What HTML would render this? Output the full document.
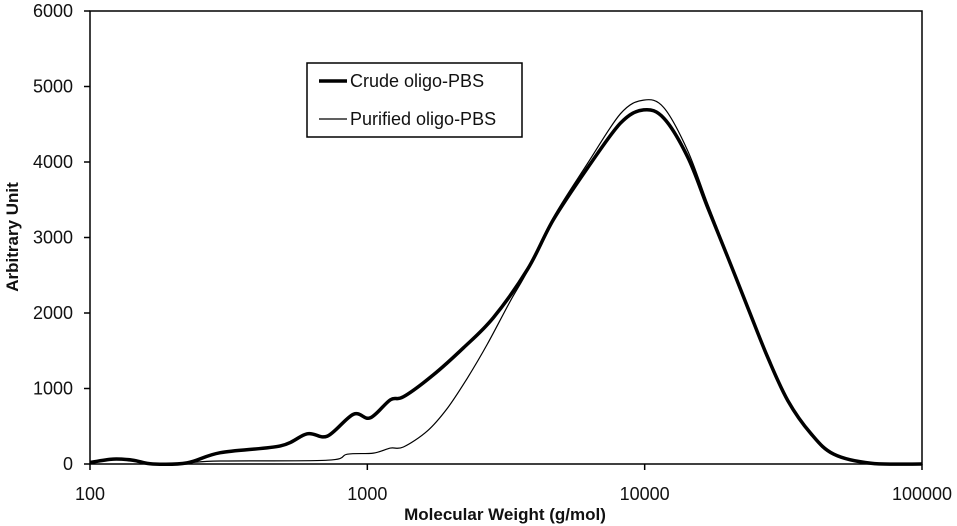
<!DOCTYPE html>
<html><head><meta charset="utf-8"><style>
body{margin:0;background:#fff;}
svg{display:block;font-family:"Liberation Sans",Arial,sans-serif;}
</style></head><body>
<svg id="chart" width="957" height="526">
<g id="axes"></g><g id="series"></g>
</svg>
<script>
const xTicks = [100, 1000, 10000, 100000];
const xTickLabels = ["100", "1000", "10000", "100000"];
const yTicks = [0, 1000, 2000, 3000, 4000, 5000, 6000];
const yTickLabels = ["0", "1000", "2000", "3000", "4000", "5000", "6000"];
const crudeLogM = [2.0,2.083,2.155,2.227,2.35,2.47,2.686,2.783,2.856,2.95,3.01,3.083,3.13,3.238,3.347,3.455,3.578,3.67,3.794,3.913,3.996,4.069,4.155,4.227,4.3,4.372,4.444,4.516,4.6,4.682,4.816,5.0];
const crudeValues = [20,65,50,0,15,150,240,400,370,660,610,850,890,1180,1540,1940,2580,3230,3920,4515,4690,4580,4065,3400,2735,2070,1410,840,400,130,10,0];
const purifiedLogM = [2.0,2.083,2.155,2.227,2.35,2.47,2.856,2.928,3.022,3.083,3.13,3.217,3.289,3.361,3.433,3.516,3.578,3.67,3.794,3.913,3.996,4.069,4.155,4.227,4.3,4.372,4.444,4.516,4.6,4.682,4.816,5.0];
const purifiedValues = [20,65,50,0,15,40,50,130,145,210,225,440,740,1140,1590,2160,2560,3260,3980,4640,4820,4720,4150,3450,2760,2080,1410,840,400,130,10,0];

const L=90,R=922,T=11,B=464;
const xs = v => L + (Math.log10(v)-2)/3*(R-L);
const xl = lg => L + (lg-2)/3*(R-L);
const ys = v => B - v/6000*(B-T);
const NS="http://www.w3.org/2000/svg";
const axes=document.getElementById('axes'), series=document.getElementById('series');
function mk(tag, attrs, parent){const e=document.createElementNS(NS,tag);for(const k in attrs)e.setAttribute(k,attrs[k]);parent.appendChild(e);return e;}

const frame=mk('rect',{x:L,y:T,width:R-L,height:B-T,fill:'none',stroke:'#000','stroke-width':1.5},axes);



yTicks.forEach((v,i)=>{
  const t=mk('line',{x1:L-6,x2:L,y1:ys(v),y2:ys(v),stroke:'#000','stroke-width':1.5},axes);
  
  
  const lb=mk('text',{x:73,y:ys(v)+6,'text-anchor':'end','font-size':18,fill:'#111'},axes);
  lb.textContent=yTickLabels[i];
  
  
});
xTicks.forEach((v,i)=>{
  const t=mk('line',{x1:xs(v),x2:xs(v),y1:B,y2:B+6,stroke:'#000','stroke-width':1.5},axes);
  
  
  const lb=mk('text',{x:xs(v),y:500,'text-anchor':'middle','font-size':18,fill:'#111'},axes);
  lb.textContent=xTickLabels[i];
  
  
});
const xt=mk('text',{x:505,y:520,'text-anchor':'middle','font-size':17,'font-weight':'bold',fill:'#111'},axes);
xt.textContent='Molecular Weight (g/mol)';


const yt=mk('text',{x:0,y:0,'text-anchor':'middle','font-size':17,'font-weight':'bold',fill:'#111',transform:'translate(18,237) rotate(-90)'},axes);
yt.textContent='Arbitrary Unit';



function pathFrom(lx,vals){
  const p=lx.map((l,i)=>[xl(l),ys(vals[i])]);
  let d='M'+p[0][0].toFixed(1)+','+p[0][1].toFixed(1);
  for(let i=0;i<p.length-1;i++){
    const p0=p[Math.max(0,i-1)],p1=p[i],p2=p[i+1],p3=p[Math.min(p.length-1,i+2)];
    const c1=[p1[0]+(p2[0]-p0[0])/6,p1[1]+(p2[1]-p0[1])/6];
    const c2=[p2[0]-(p3[0]-p1[0])/6,p2[1]-(p3[1]-p1[1])/6];
    d+=' C'+c1[0].toFixed(1)+','+c1[1].toFixed(1)+' '+c2[0].toFixed(1)+','+c2[1].toFixed(1)+' '+p2[0].toFixed(1)+','+p2[1].toFixed(1);
  }
  return d;
}
const pp=mk('path',{d:pathFrom(purifiedLogM,purifiedValues),fill:'none',stroke:'#000','stroke-width':1.2,'stroke-linejoin':'round'},series);


const cp=mk('path',{d:pathFrom(crudeLogM,crudeValues),fill:'none',stroke:'#000','stroke-width':3.5,'stroke-linejoin':'round'},series);



const lg=mk('g',{},series);


mk('rect',{x:307,y:63,width:215,height:74,fill:'#fff',stroke:'#000','stroke-width':1.5},lg);
mk('line',{x1:319,x2:347,y1:81,y2:81,stroke:'#000','stroke-width':3.5},lg);
mk('line',{x1:319,x2:347,y1:119,y2:119,stroke:'#000','stroke-width':1.2},lg);
const l1=mk('text',{x:350,y:87,'font-size':18,fill:'#111'},lg);
l1.textContent='Crude oligo-PBS';


const l2=mk('text',{x:350,y:125,'font-size':18,fill:'#111'},lg);
l2.textContent='Purified oligo-PBS';


</script>
</body></html>
